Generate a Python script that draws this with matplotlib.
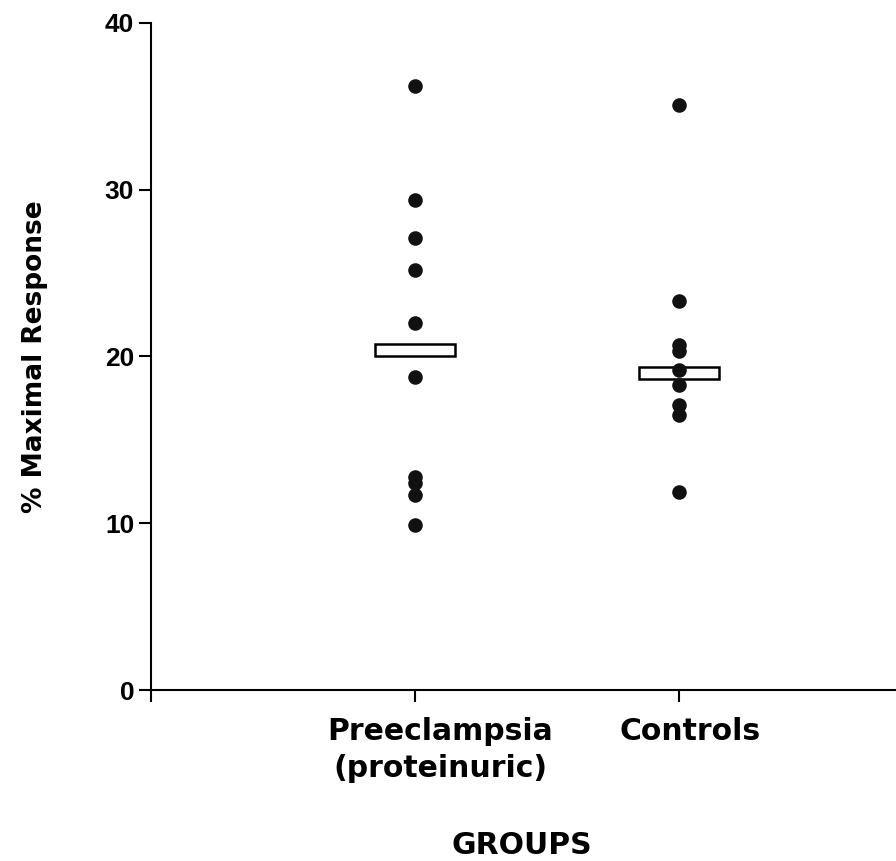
import numpy as np
import matplotlib.pyplot as plt
import matplotlib.transforms as mtransforms

# data
groups = ['Preeclampsia\n(proteinuric)', 'Controls']
preeclampsia = [36.2, 29.4, 27.1, 25.2, 22.0, 18.8, 12.8, 12.4, 11.7, 9.9]
controls = [35.1, 23.3, 20.7, 20.3, 19.2, 18.3, 17.1, 16.5, 11.9]
group_means = [20.4, 19.0]

txt_font = 'DejaVu Sans'
num_font = 'Liberation Sans'

fig = plt.figure(figsize=(8.96, 8.61), dpi=100)
ax = fig.add_axes([0.1685, 0.1986, 0.8315, 0.7747])

# mean boxes (drawn under the dots)
xpos = np.array([1, 2])
ax.bar(xpos, [0.72, 0.72], bottom=np.array(group_means) - 0.36, width=0.3,
       facecolor='white', edgecolor='black', linewidth=1.8, zorder=2)

# individual points
for x, vals in zip(xpos, [preeclampsia, controls]):
    ax.scatter([x] * len(vals), vals, s=110, color='#111111', zorder=3,
               linewidths=0)

ax.set_xlim(0, 2.822)
ax.set_ylim(0, 40)
ax.set_yticks([0, 10, 20, 30, 40])
ax.set_xticks([0, 1, 2])
ax.set_xticklabels(['', '', ''])
for lab in ax.get_yticklabels():
    lab.set_fontfamily(num_font)
    lab.set_fontweight('bold')
    lab.set_fontsize(19)

# group names sit a little right of their ticks
shifts = [25, 11]
for x, name, dx in zip(xpos, groups, shifts):
    tr = ax.get_xaxis_transform() + mtransforms.ScaledTranslation(
        dx / 100, -27 / 100, fig.dpi_scale_trans)
    ax.text(x, 0, name, transform=tr, ha='center', va='top',
            fontfamily=txt_font, fontweight='bold', fontsize=21.5,
            linespacing=1.35, multialignment='center')

ax.spines['top'].set_visible(False)
ax.spines['right'].set_visible(False)
ax.spines['left'].set_linewidth(1.5)
ax.spines['bottom'].set_linewidth(1.5)
ax.tick_params(axis='y', direction='out', length=8.6, width=1.5, pad=3.5)
ax.tick_params(axis='x', direction='out', length=8.6, width=1.5, pad=10)

ax.set_ylabel('% Maximal Response', fontfamily=txt_font, fontweight='bold',
              fontsize=19)
ax.yaxis.set_label_coords(-0.138, 0.5)

fig.text(522 / 896, 1 - 846 / 861, 'GROUPS', fontfamily=txt_font,
         fontweight='bold', fontsize=21.5, ha='center', va='center')

fig.savefig('out.png', dpi=100)
